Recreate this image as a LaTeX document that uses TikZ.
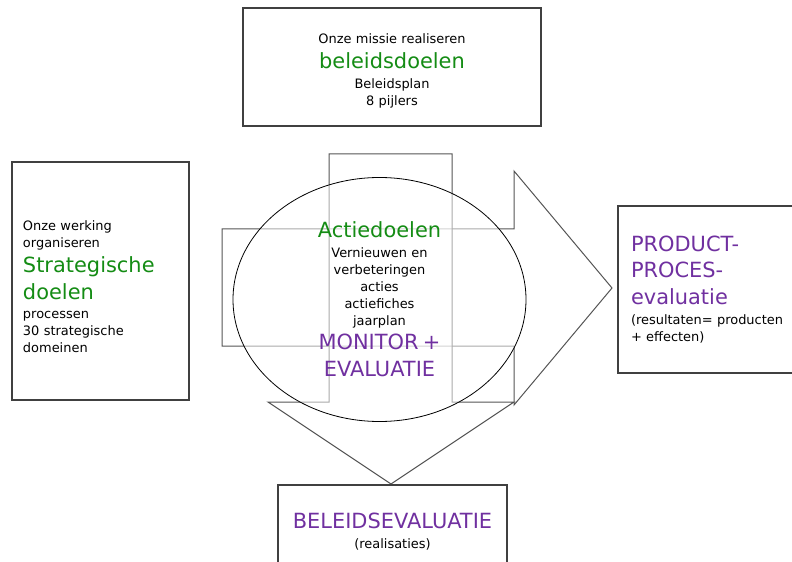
\documentclass[tikz,border=0pt]{standalone}
\usepackage{fontspec}
\setmainfont{DejaVu Sans}
\usetikzlibrary{shapes.geometric}
\setlength{\parindent}{0pt}
\def\DoelColor{rgb,255:red,20;green,140;blue,20}
\def\EvalColor{rgb,255:red,112;green,48;blue,160}
\def\LijnColor{rgb,255:red,64;green,64;blue,64}
\def\PijlColor{rgb,255:red,85;green,85;blue,85}
\newcommand{\kleintekst}{\fontsize{13}{17}\selectfont}
\newcommand{\groottekst}{\fontsize{21}{24.5}\selectfont}

\begin{document}
\begin{tikzpicture}[x=1bp,y=-1bp]
\tikzstyle{doelbox} = [rectangle, draw=\LijnColor, line width=1.2bp, fill=white, font=\kleintekst, inner sep=0pt]
\tikzstyle{blokpijl} = [draw=\PijlColor, line width=1bp, fill=white, fill opacity=0.5]
\tikzstyle{kern} = [ellipse, draw=black, line width=0.8bp, fill=white, fill opacity=0.5, text opacity=1, inner sep=0pt, font=\kleintekst, align=center, text width=180bp]

\useasboundingbox (0,0) rectangle (792,562);

% block arrows behind the ellipse
\path [blokpijl] (222,229) -- (514,229) -- (514,171) -- (612,288) -- (514,405) -- (514,346) -- (222,346) -- cycle;
\path [blokpijl] (329,154) -- (452,154) -- (452,402) -- (514,402) -- (391,484) -- (268,402) -- (329,402) -- cycle;

\node [kern, minimum width=293bp, minimum height=244bp] at (379.5,299.5) (actie) {{\groottekst\color{\DoelColor}Actiedoelen\par}\vspace{3bp}Vernieuwen en\par verbeteringen\par acties\par actiefiches\par jaarplan\par{\groottekst\color{\EvalColor}MONITOR +\\[2.5bp] EVALUATIE\par}};

% text sits a little below the middle of these boxes
\node [doelbox, align=center, text width=298bp, minimum height=118bp] at (392,67) (beleid) {Onze missie realiseren\par{\groottekst\color{\DoelColor}beleidsdoelen\par}\vspace{3bp}Beleidsplan\par 8 pijlers\par\kern-8bp};
\node [doelbox, align=left, text width=155bp, inner xsep=11bp, minimum height=238bp] at (100.5,281) (strategie) {Onze werking\par organiseren\par{\groottekst\color{\DoelColor}Strategische\\[2.5bp] doelen\par}\vspace{3bp}processen\par 30 strategische\par domeinen\par\kern-12bp};
\node [doelbox, align=left, text width=164bp, inner xsep=13bp, minimum height=167bp] at (713,289.5) (product) {{\groottekst\color{\EvalColor}PRODUCT-\\[2.5bp] PROCES-\\[2.5bp] evaluatie\par}\vspace{3bp}(resultaten= producten\par + effecten)};
\node [doelbox, align=center, text width=229bp, minimum height=90bp] at (392.5,530) (beleidseval) {{\groottekst\color{\EvalColor}BELEIDSEVALUATIE\par}\vspace{3bp}(realisaties)\par\kern-4bp};

\end{tikzpicture}
\end{document}
